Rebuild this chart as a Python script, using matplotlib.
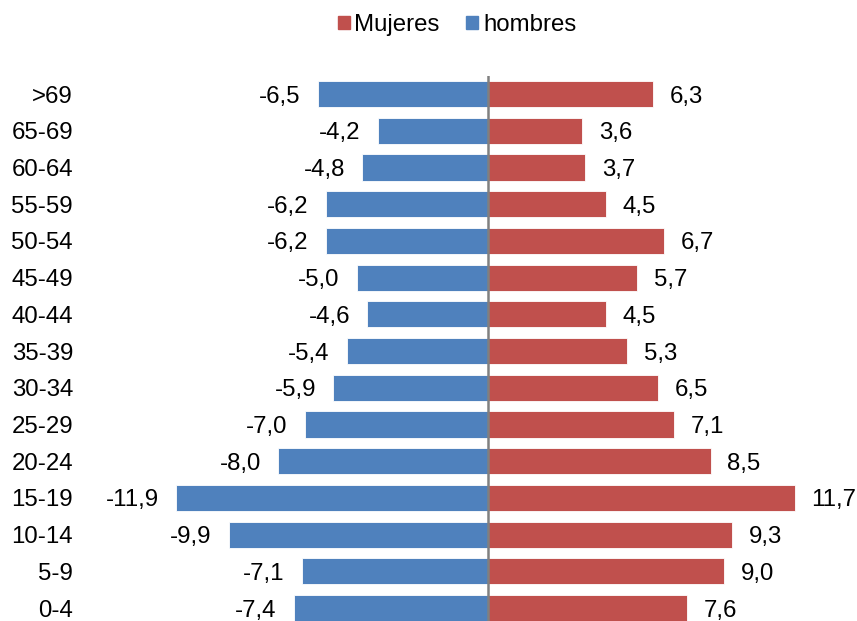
import matplotlib
matplotlib.use("Agg")
import matplotlib.pyplot as plt
import numpy as np
from matplotlib.patches import Patch

plt.rcParams['font.family'] = ['Liberation Sans', 'DejaVu Sans']

age_groups = ['0-4', '5-9', '10-14', '15-19', '20-24', '25-29', '30-34', '35-39',
              '40-44', '45-49', '50-54', '55-59', '60-64', '65-69', '>69']
hombres = [-7.4, -7.1, -9.9, -11.9, -8.0, -7.0, -5.9, -5.4, -4.6, -5.0, -6.2, -6.2, -4.8, -4.2, -6.5]
mujeres = [7.6, 9.0, 9.3, 11.7, 8.5, 7.1, 6.5, 5.3, 4.5, 5.7, 6.7, 4.5, 3.7, 3.6, 6.3]

red = '#C0504D'
blue = '#4F81BD'
fs = 17.3

fig = plt.figure(figsize=(8.57, 6.21), dpi=100)
ax = fig.add_axes([80 / 857, 0.0, 1 - 80 / 857, 0.878])

y = np.arange(len(age_groups))
ax.barh(y, hombres, height=0.71, color=blue, edgecolor='white', linewidth=0.6)
ax.barh(y, mujeres, height=0.71, color=red, edgecolor='white', linewidth=0.6)

ax.set_xlim(-15.57, 14.08)
ax.set_ylim(-0.354, 14.5)
ax.axvline(0, color='#808080', linewidth=1.8, zorder=3)

def fmt(v):
    return f"{v:.1f}".replace('.', ',')

for yi, v in zip(y, hombres):
    ax.annotate(fmt(v), (v, yi), xytext=(-12.5, 0), textcoords='offset points',
                ha='right', va='center_baseline', fontsize=fs, color='black')
for yi, v in zip(y, mujeres):
    ax.annotate(fmt(v), (v, yi), xytext=(12, 0), textcoords='offset points',
                ha='left', va='center_baseline', fontsize=fs, color='black')

ax.set_yticks(y)
ax.set_yticklabels(age_groups, fontsize=fs, va='center_baseline')
ax.tick_params(axis='y', length=0, pad=5)
ax.set_xticks([])
for s in ax.spines.values():
    s.set_visible(False)

handles = [Patch(color=red, label='Mujeres'), Patch(color=blue, label='hombres')]
fig.legend(handles=handles, loc='center', bbox_to_anchor=(457 / 857, 1 - 25 / 621),
           ncol=2, frameon=False, fontsize=fs, handlelength=0.5, handleheight=0.5,
           handletextpad=0.2, columnspacing=1.1)

fig.savefig('out.png', dpi=100)
